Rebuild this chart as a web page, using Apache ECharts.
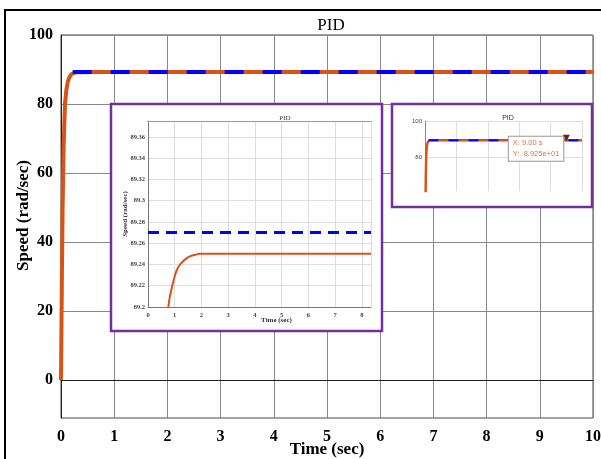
<!DOCTYPE html>
<html>
<head>
    <meta charset="utf-8">
    <title>PID</title>
    <script src="https://cdn.jsdelivr.net/npm/echarts@6/dist/echarts.min.js"></script>
    <style>
        html, body { margin: 0; padding: 0; background: #fff; }
        #main { width: 601px; height: 459px; }
    </style>
</head>
<body>
    <div id="main"></div>
    <script type="text/javascript">
        // main response (time in sec, speed in rad/sec)
        var speedT = [0, 0.01, 0.02, 0.03, 0.05, 0.075, 0.1, 0.13, 0.16, 0.2, 0.25, 0.3, 0.4, 0.6, 10];
        var speedV = [0, 18, 35, 50, 68, 80, 84, 86.6, 87.8, 88.7, 89.05, 89.18, 89.24, 89.25, 89.25];
        // reference speed
        var refT = [0.22, 10];
        var refV = [89.27, 89.27];
        // zoomed inset (left)
        var zoomT = [0.76, 0.82, 0.9, 1.0, 1.1, 1.2, 1.31, 1.45, 1.56, 1.75, 1.93, 2.5, 8.34];
        var zoomV = [89.2, 89.21, 89.219, 89.229, 89.236, 89.24, 89.243, 89.246, 89.2476, 89.249, 89.25, 89.25, 89.25];
        var zoomRefT = [0, 8.34];
        var zoomRefV = [89.27, 89.27];
        // data tip in the right inset
        var tipPoint = [9, 89.25];
        var mainYTicks = [0, 20, 40, 60, 80, 100];
        var smallYTicks = [80, 100];

        function pairs(t, v) {
            var out = [];
            for (var i = 0; i < t.length; i++) out.push([t[i], v[i]]);
            return out;
        }

        var serif = 'Liberation Serif';
        var sans = 'Liberation Sans';
        var purple = '#7030A0';
        var orange = '#D95319';
        var blue = '#0000FF';

        var myChart = echarts.init(document.getElementById('main'));
        var option = {
            animation: false,
            backgroundColor: '#fff',
            title: [
                { text: 'PID', left: 326, top: 12, textAlign: 'center',
                  textStyle: { fontFamily: serif, fontWeight: 'normal', fontSize: 17, color: '#000' } },
                { text: 'PID', left: 280, top: 110, textAlign: 'center', z: 12,
                  textStyle: { fontFamily: serif, fontWeight: 'normal', fontSize: 7, color: '#444' } },
                { text: 'PID', left: 503, top: 110, textAlign: 'center', z: 12,
                  textStyle: { fontFamily: sans, fontWeight: 'normal', fontSize: 7, color: '#333' } }
            ],
            graphic: [
                { type: 'rect', z: 0, shape: { x: 5, y: 10, width: 610, height: 470 },
                  style: { fill: 'none', stroke: '#000', lineWidth: 2 } },
                { type: 'rect', z: 10, shape: { x: 111, y: 104, width: 271, height: 227 },
                  style: { fill: '#fff', stroke: purple, lineWidth: 2.5 } },
                { type: 'rect', z: 10, shape: { x: 392, y: 104, width: 200, height: 103 },
                  style: { fill: '#fff', stroke: purple, lineWidth: 2.5 } }
            ],
            grid: [
                { left: 61, top: 35, right: 8, bottom: 41, show: true, borderColor: '#444', borderWidth: 1,
                  outerBoundsMode: 'none', containLabel: false },
                { left: 148, top: 121, width: 223, height: 186, outerBoundsMode: 'none', containLabel: false },
                { left: 425, top: 121, width: 157, height: 70, outerBoundsMode: 'none', containLabel: false }
            ],
            xAxis: [
                { type: 'value', gridIndex: 0, min: 0, max: 10, interval: 1,
                  name: 'Time (sec)', nameLocation: 'middle', nameGap: 23, nameMoveOverlap: false,
                  nameTextStyle: { fontFamily: serif, fontWeight: 'bold', fontSize: 17, color: '#000' },
                  axisLine: { lineStyle: { color: '#222' } }, axisTick: { show: false },
                  axisLabel: { fontFamily: serif, fontWeight: 'bold', fontSize: 16, color: '#000', margin: 11 },
                  splitLine: { lineStyle: { color: '#888' } } },
                { type: 'value', gridIndex: 1, min: 0, max: 8.34, interval: 1, z: 11,
                  name: 'Time (sec)', nameLocation: 'middle', nameGap: 10, nameMoveOverlap: false,
                  nameTextStyle: { fontFamily: serif, fontWeight: 'bold', fontSize: 7, color: '#333', padding: [0, 0, 0, 34] },
                  axisLine: { lineStyle: { color: '#777' } }, axisTick: { show: false },
                  axisLabel: { fontFamily: serif, fontWeight: 'bold', fontSize: 6.5, color: '#444', margin: 5, showMaxLabel: false },
                  splitLine: { lineStyle: { color: '#ddd' } } },
                { type: 'value', gridIndex: 1, position: 'top', min: 0, max: 8.34, z: 11,
                  axisLine: { lineStyle: { color: '#999' } }, axisTick: { show: false },
                  axisLabel: { show: false }, splitLine: { show: false } },
                { type: 'value', gridIndex: 2, min: 0, max: 10, interval: 2, z: 11,
                  axisLine: { show: false }, axisTick: { show: false },
                  axisLabel: { show: false },
                  splitLine: { lineStyle: { color: '#ddd' } } }
            ],
            yAxis: [
                { type: 'value', gridIndex: 0, min: -11, max: 100,
                  name: 'Speed (rad/sec)', nameLocation: 'middle', nameGap: 29, nameMoveOverlap: false,
                  nameTextStyle: { fontFamily: serif, fontWeight: 'bold', fontSize: 17, color: '#000', padding: [0, 0, 0, 22] },
                  axisLine: { show: true, lineStyle: { color: '#222' } },
                  axisTick: { show: false, customValues: mainYTicks },
                  axisLabel: { fontFamily: serif, fontWeight: 'bold', fontSize: 16, color: '#000', margin: 8, customValues: mainYTicks },
                  splitLine: { lineStyle: { color: '#888' } } },
                { type: 'value', gridIndex: 1, min: 89.2, max: 89.375, interval: 0.02, z: 11,
                  name: 'Speed (rad/sec)', nameLocation: 'middle', nameGap: 19, nameMoveOverlap: false,
                  nameTextStyle: { fontFamily: serif, fontWeight: 'bold', fontSize: 7, color: '#333' },
                  axisLine: { show: true, lineStyle: { color: '#777' } }, axisTick: { show: false },
                  axisLabel: { fontFamily: serif, fontWeight: 'bold', fontSize: 6.5, color: '#444', margin: 3, showMaxLabel: false },
                  splitLine: { lineStyle: { color: '#ddd' } } },
                { type: 'value', gridIndex: 2, min: 61, max: 100, z: 11,
                  axisLine: { show: true, lineStyle: { color: '#888' } },
                  axisTick: { show: false, customValues: smallYTicks },
                  axisLabel: { fontFamily: sans, fontSize: 6, color: '#444', margin: 3, customValues: smallYTicks },
                  splitLine: { lineStyle: { color: '#ddd' } } }
            ],
            series: [
                { type: 'line', xAxisIndex: 0, yAxisIndex: 0, z: 2, showSymbol: false, smooth: false,
                  data: pairs(speedT, speedV), lineStyle: { color: orange, width: 4 } },
                { type: 'line', xAxisIndex: 0, yAxisIndex: 0, z: 3, showSymbol: false,
                  data: pairs(refT, refV), lineStyle: { color: blue, width: 4, type: [19, 19], cap: 'butt' } },
                { type: 'line', xAxisIndex: 1, yAxisIndex: 1, z: 12, showSymbol: false, smooth: 0.3,
                  data: pairs(zoomT, zoomV), lineStyle: { color: orange, width: 2 } },
                { type: 'line', xAxisIndex: 1, yAxisIndex: 1, z: 13, showSymbol: false,
                  data: pairs(zoomRefT, zoomRefV), lineStyle: { color: blue, width: 3, type: [11, 7] } },
                { type: 'line', xAxisIndex: 3, yAxisIndex: 2, z: 12, showSymbol: false,
                  data: pairs(speedT, speedV), lineStyle: { color: orange, width: 2.5 } },
                { type: 'line', xAxisIndex: 3, yAxisIndex: 2, z: 13, showSymbol: false,
                  data: pairs(refT, refV), lineStyle: { color: blue, width: 2, type: [10, 10] },
                  markPoint: {
                      z: 14,
                      symbol: 'triangle', symbolRotate: 180, symbolSize: 7, symbolOffset: [0, -2],
                      itemStyle: { color: '#6B2410' },
                      label: {
                          show: true, position: [-54, 2],
                          formatter: 'X: 9.00 s\nY:  8.925e+01',
                          fontFamily: sans, fontSize: 7.5, lineHeight: 11, color: '#E8743B',
                          backgroundColor: '#fff', borderColor: '#999', borderWidth: 1, padding: [1, 4]
                      },
                      data: [{ coord: tipPoint }]
                  } }
            ]
        };
        myChart.setOption(option);
    </script>
</body>
</html>
